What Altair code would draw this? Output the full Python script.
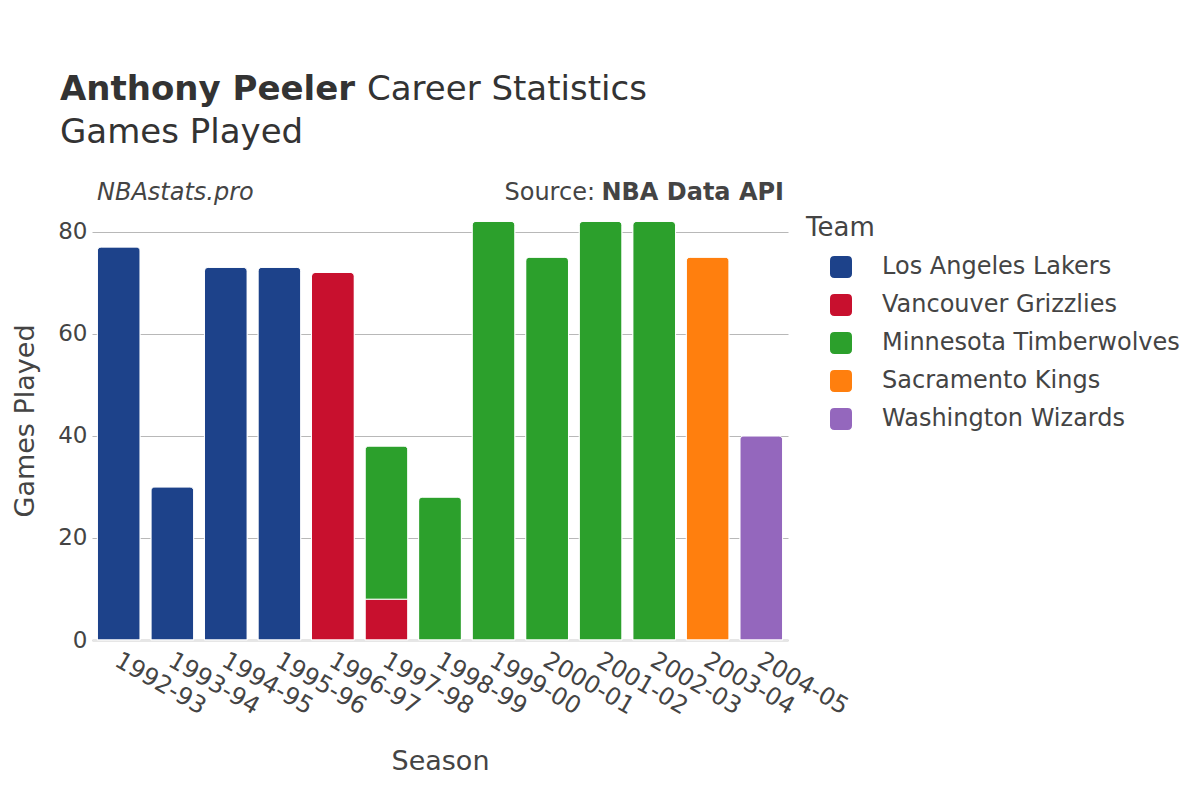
import altair as alt
import pandas as pd

seasons = ["1992-93", "1993-94", "1994-95", "1995-96", "1996-97", "1997-98", "1998-99",
           "1999-00", "2000-01", "2001-02", "2002-03", "2003-04", "2004-05"]
teams = ["Los Angeles Lakers", "Vancouver Grizzlies", "Minnesota Timberwolves",
         "Sacramento Kings", "Washington Wizards"]
team_colors = ["#1d428a", "#c8102e", "#2ca02c", "#ff7f0e", "#9467bd"]

row_season = ["1992-93", "1993-94", "1994-95", "1995-96", "1996-97", "1997-98", "1997-98",
              "1998-99", "1999-00", "2000-01", "2001-02", "2002-03", "2003-04", "2004-05"]
row_team = ["Los Angeles Lakers", "Los Angeles Lakers", "Los Angeles Lakers", "Los Angeles Lakers",
            "Vancouver Grizzlies", "Vancouver Grizzlies", "Minnesota Timberwolves",
            "Minnesota Timberwolves", "Minnesota Timberwolves", "Minnesota Timberwolves",
            "Minnesota Timberwolves", "Minnesota Timberwolves", "Sacramento Kings",
            "Washington Wizards"]
row_games = [77, 30, 73, 73, 72, 8, 30, 28, 82, 75, 82, 82, 75, 40]

df = pd.DataFrame({"Season": row_season, "Team": row_team, "Games": row_games})
df["order"] = [teams.index(t) for t in df["Team"]]

FONT = "DejaVu Sans"
TXT = "#444444"

rounded_square = ("M -1 -0.6 Q -1 -1 -0.6 -1 L 0.6 -1 Q 1 -1 1 -0.6 L 1 0.6 "
                  "Q 1 1 0.6 1 L -0.6 1 Q -1 1 -1 0.6 Z")

bars = alt.Chart(df).mark_bar(cornerRadiusEnd=4, stroke="white", strokeWidth=1).encode(
    x=alt.X("Season:N", sort=seasons, title="Season",
            scale=alt.Scale(paddingInner=0.2, paddingOuter=0.1),
            axis=alt.Axis(labelAngle=30, labelAlign="left", labelBaseline="top",
                          ticks=False, labelFontSize=24, titleFontSize=27,
                          labelPadding=8, labelOffset=4, titlePadding=30,
                          domainColor="#e6e6e6", domainWidth=3,
                          labelColor=TXT, titleColor=TXT, titleFontWeight="normal")),
    y=alt.Y("sum(Games):Q", title="Games Played",
            scale=alt.Scale(domain=[0, 86], nice=False),
            axis=alt.Axis(values=[0, 20, 40, 60, 80], ticks=False, domain=False,
                          gridColor="#b8b8b8", gridWidth=1, labelFontSize=23,
                          titleFontSize=27, labelPadding=5, titlePadding=18,
                          labelColor=TXT, titleColor=TXT, titleFontWeight="normal")),
    color=alt.Color("Team:N", sort=teams,
                    scale=alt.Scale(domain=teams, range=team_colors),
                    legend=alt.Legend(title="Team", orient="none", legendX=714, legendY=14,
                                      titleFontSize=26, labelFontSize=24, labelLimit=400,
                                      titleColor=TXT, labelColor=TXT,
                                      titleFontWeight="normal",
                                      symbolType=rounded_square, symbolSize=484,
                                      symbolStrokeWidth=0, symbolOpacity=1,
                                      symbolOffset=23, labelOffset=29,
                                      rowPadding=14, titlePadding=14, padding=0)),
    order=alt.Order("order:Q", sort="ascending"),
)


def label(text, x, y, size, weight="normal", style="normal", align="left", color=TXT):
    return alt.Chart(alt.Data(values=[{"t": text}])).mark_text(
        align=align, baseline="alphabetic", fontSize=size, fontWeight=weight,
        fontStyle=style, font=FONT, color=color
    ).encode(x=alt.value(x), y=alt.value(y), text="t:N")


header = [
    label("Anthony Peeler", -32, -101, 34, weight="bold", color="#333333"),
    label("Career Statistics", 275, -101, 34, color="#333333"),
    label("Games Played", -32, -58, 34, color="#333333"),
    label("NBAstats.pro", 5, -1, 24, style="italic"),
    label("Source:", 503, -1, 24, align="right"),
    label("NBA Data API", 692, -1, 24, weight="bold", align="right"),
]

chart = alt.layer(bars, *header).properties(
    width=696, height=439,
    autosize=alt.AutoSizeParams(type="none"),
    padding={"left": 84, "top": 193, "right": 400, "bottom": 150},
).configure(font=FONT).configure_view(stroke=None)

chart.save("out.html", embed_options={"renderer": "svg", "actions": False})
